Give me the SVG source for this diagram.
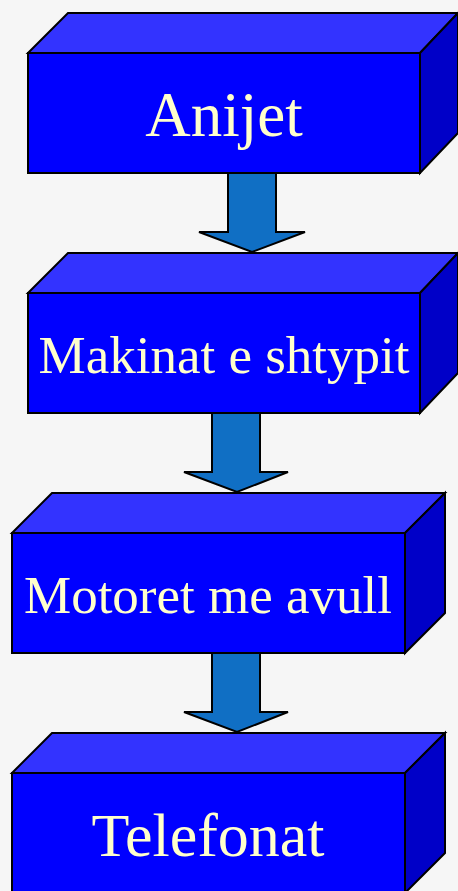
<svg xmlns="http://www.w3.org/2000/svg" width="458" height="891" viewBox="0 0 458 891">
<style>
.front{fill:#0000FF;stroke:#000;stroke-width:2;stroke-linejoin:miter}
.top{fill:#3333FF;stroke:#000;stroke-width:2;stroke-linejoin:miter}
.side{fill:#0000C8;stroke:#000;stroke-width:2;stroke-linejoin:miter}
.arrow{fill:#106FC4;stroke:#000;stroke-width:2;stroke-linejoin:miter}
.lbl{fill:#FFFFCC;font-family:"Liberation Serif","Times New Roman",serif;text-anchor:middle}
</style>
<rect width="458" height="891" fill="#F6F6F6"/>
<g id="connectors">
<path class="arrow" d="M228,173 L276,173 L276,232 L305,232 L252,252 L199,232 L228,232 Z"/>
<path class="arrow" d="M212,413 L260,413 L260,472 L288,472 L237,492 L184,472 L212,472 Z"/>
<path class="arrow" d="M212,653 L260,653 L260,712 L288,712 L237,732 L184,712 L212,712 Z"/>
</g>
<g id="node-anijet">
<polygon class="top" points="28,53 68,13 458,13 420,53"/>
<polygon class="side" points="420,53 458,13 458,133 420,173"/>
<rect class="front" x="28" y="53" width="392" height="120"/>
<text class="lbl" x="224" y="136" font-size="63">Anijet</text>
</g>
<g id="node-makinat">
<polygon class="top" points="28,293 68,253 458,253 420,293"/>
<polygon class="side" points="420,293 458,253 458,373 420,413"/>
<rect class="front" x="28" y="293" width="392" height="120"/>
<text class="lbl" x="224" y="373" font-size="53">Makinat e shtypit</text>
</g>
<g id="node-motoret">
<polygon class="top" points="12,533 52,493 445,493 405,533"/>
<polygon class="side" points="405,533 445,493 445,613 405,653"/>
<rect class="front" x="12" y="533" width="393" height="120"/>
<text class="lbl" x="208" y="613" font-size="53">Motoret me avull</text>
</g>
<g id="node-telefonat">
<polygon class="top" points="12,773 52,733 445,733 405,773"/>
<polygon class="side" points="405,773 445,733 445,853 405,893"/>
<rect class="front" x="12" y="773" width="393" height="120"/>
<text class="lbl" x="208" y="856" font-size="62">Telefonat</text>
</g>
</svg>
